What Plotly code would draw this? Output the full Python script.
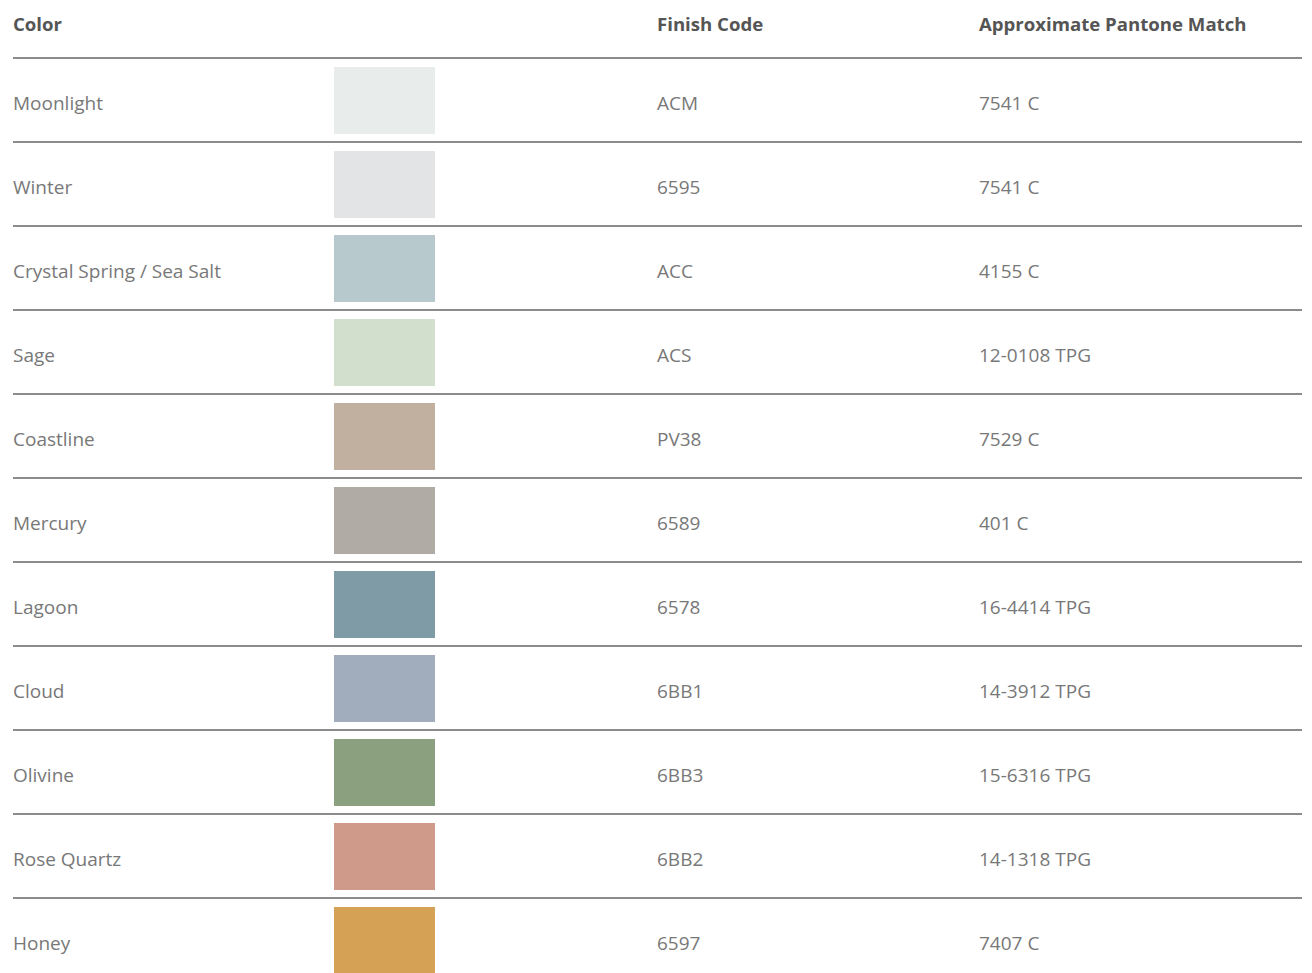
import plotly.graph_objects as go

# ---- data ----
color_names = ["Moonlight", "Winter", "Crystal Spring / Sea Salt", "Sage", "Coastline",
               "Mercury", "Lagoon", "Cloud", "Olivine", "Rose Quartz", "Honey"]
finish_codes = ["ACM", "6595", "ACC", "ACS", "PV38", "6589", "6578", "6BB1", "6BB3", "6BB2", "6597"]
pantone = ["7541 C", "7541 C", "4155 C", "12-0108 TPG", "7529 C", "401 C",
           "16-4414 TPG", "14-3912 TPG", "15-6316 TPG", "14-1318 TPG", "7407 C"]
swatch_colors = ["#e8ecea", "#e3e4e6", "#b7c9cd", "#d3dfcd", "#c1afa0", "#b0aca5",
                 "#7f9ca6", "#a1acbc", "#8aa07f", "#cf9a8a", "#d4a155"]
headers = ["Color", "Finish Code", "Approximate Pantone Match"]

# ---- layout constants (page pixels) ----
W, H = 1312, 973
PAGE_OFF = 8          # default body margin of the page
ROW_H = 84.0
FIRST_ROW_CENTER = 100.0
HEADER_Y_PX = 23.5
COL_X = [13, 657, 979]
SW_X0, SW_W, SW_H = 334, 101, 67
LINE_X0, LINE_X1 = 13, 1302
FONT = "Open Sans, Noto Sans, sans-serif"
HEADER_COLOR = "#555555"
BODY_COLOR = "#787878"
LINE_COLOR = "#666666"
TEXT_NUDGE = 3.0 / ROW_H
X_SHIFT = -2

n = len(color_names)
rows = list(range(n))
header_y = (HEADER_Y_PX - FIRST_ROW_CENTER) / ROW_H

fig = go.Figure()
fig.add_trace(go.Bar(
    orientation="h", y=rows, x=[SW_W] * n, base=SW_X0,
    width=SW_H / ROW_H, marker=dict(color=swatch_colors, line=dict(width=0)),
    hoverinfo="skip", showlegend=False,
))

annotations = []
for h, cx in zip(headers, COL_X):
    annotations.append(dict(x=cx, y=header_y, xref="x", yref="y", text="<b>%s</b>" % h,
                            showarrow=False, xanchor="left", yanchor="middle", xshift=X_SHIFT,
                            font=dict(family=FONT, size=18.6, color=HEADER_COLOR)))
for i in rows:
    for txt, cx in zip([color_names[i], finish_codes[i], pantone[i]], COL_X):
        annotations.append(dict(x=cx, y=i + TEXT_NUDGE, xref="x", yref="y", text=txt,
                                showarrow=False, xanchor="left", yanchor="middle", xshift=X_SHIFT,
                                font=dict(family=FONT, size=19, color=BODY_COLOR)))

shapes = []
for yl in [-0.5] + [i + 0.5 for i in rows]:
    shapes.append(dict(type="line", xref="x", yref="y", x0=LINE_X0, x1=LINE_X1, y0=yl, y1=yl,
                       line=dict(color=LINE_COLOR, width=1.3)))

fw, fh = W - PAGE_OFF, H - PAGE_OFF
fig.update_layout(
    width=fw, height=fh, margin=dict(l=0, r=0, t=0, b=0),
    paper_bgcolor="white", plot_bgcolor="white",
    xaxis=dict(range=[PAGE_OFF, W], visible=False, fixedrange=True),
    yaxis=dict(range=[(H - FIRST_ROW_CENTER) / ROW_H, (PAGE_OFF - FIRST_ROW_CENTER) / ROW_H],
               visible=False, fixedrange=True),
    annotations=annotations, shapes=shapes, bargap=0, hovermode=False,
)

fig.write_html("out.html", config={"displayModeBar": False})
